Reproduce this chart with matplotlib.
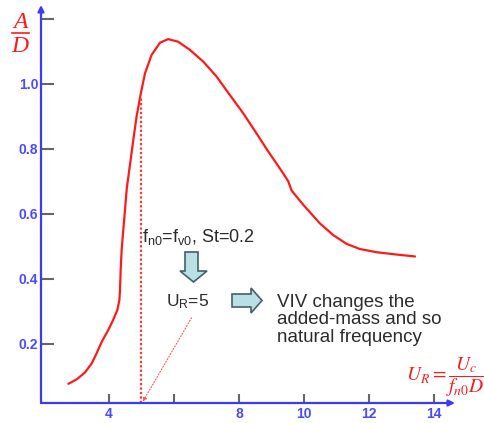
import matplotlib
matplotlib.use("Agg")
import matplotlib.pyplot as plt
from matplotlib.patches import Polygon
import numpy as np

plt.rcParams['font.family'] = ['Liberation Sans', 'DejaVu Sans']
plt.rcParams['mathtext.fontset'] = 'custom'
plt.rcParams['mathtext.rm'] = 'Liberation Sans'
plt.rcParams['mathtext.it'] = 'Liberation Sans:italic'

# ---- data ----
ur = [2.75, 3.01, 3.26, 3.47, 3.62, 3.78, 3.98, 4.13, 4.26, 4.32, 4.34, 4.36, 4.39,
      4.44, 4.55, 4.75, 4.85, 4.98, 5.11, 5.31, 5.57, 5.82, 6.13, 6.49, 6.9, 7.31,
      7.72, 8.13, 8.54, 8.85, 9.36, 9.52, 9.62, 9.98, 10.49, 10.9, 11.31, 11.72,
      12.24, 12.85, 13.42]
amp = [0.077, 0.091, 0.112, 0.14, 0.171, 0.207, 0.243, 0.274, 0.305, 0.335, 0.366,
       0.428, 0.489, 0.55, 0.68, 0.828, 0.90, 0.971, 1.033, 1.089, 1.127, 1.138, 1.13,
       1.105, 1.069, 1.023, 0.966, 0.91, 0.848, 0.80, 0.725, 0.70, 0.672, 0.628, 0.571,
       0.535, 0.508, 0.492, 0.482, 0.475, 0.469]
x_ticks = [4, 6, 8, 10, 12, 14]
x_ticklabels = ['4', '', '8', '10', '12', '14']
y_ticks = [0.2, 0.4, 0.6, 0.8, 1.0, 1.2]
y_ticklabels = ['0.2', '0.4', '0.6', '0.8', '1.0', '']
ur_marker = 5.0
ur_note = (6.54, 0.28)

W, H = 485, 423
fig = plt.figure(figsize=(W / 100, H / 100), dpi=100)
ax = fig.add_axes([41 / W, (H - 403) / H, (455 - 41) / W, (403 - 5) / H])
ax.set_xlim(1.908, 14.65)
ax.set_ylim(0.018, 1.243)
for s in ax.spines.values():
    s.set_visible(False)

def fp(x, y):
    return (x / W, 1 - y / H)

# axes with arrow heads
axis_col = '#3a3aff'
ax.annotate('', xy=(0, 1.0), xytext=(0, 0), xycoords='axes fraction',
            arrowprops=dict(arrowstyle='-|>', color=axis_col, lw=1.6, mutation_scale=9,
                            shrinkA=0, shrinkB=0))
ax.annotate('', xy=(1.0, 0), xytext=(0, 0), xycoords='axes fraction',
            arrowprops=dict(arrowstyle='-|>', color=axis_col, lw=1.6, mutation_scale=9,
                            shrinkA=0, shrinkB=0))

ax.set_xticks(x_ticks)
ax.set_xticklabels(x_ticklabels)
ax.set_yticks(y_ticks)
ax.set_yticklabels(y_ticklabels)
ax.tick_params(axis='x', direction='in', length=6.5, width=1.5, color='#666666',
               labelcolor='#4a4aff', labelsize=10, pad=3)
ax.tick_params(axis='y', direction='in', length=9.5, width=1.5, color='#666666',
               labelcolor='#4a4aff', labelsize=10, pad=2)
for lab in ax.get_xticklabels() + ax.get_yticklabels():
    lab.set_fontweight('bold')

# curve
ax.plot(ur, amp, color='#ff1a1a', lw=1.6, solid_capstyle='round',
        solid_joinstyle='round', clip_on=False)

# vertical dotted marker line at UR=5
top = np.interp(ur_marker, ur, amp)
ax.plot([ur_marker, ur_marker], [0.018, top - 0.02], color='#ff3333', lw=1.6,
        linestyle=(0, (1, 1)), clip_on=False)
# sloped dotted pointer
ax.annotate('', xy=(ur_marker + 0.04, 0.022), xytext=ur_note,
            arrowprops=dict(arrowstyle='-|>', color='#ff5555', lw=0.8, linestyle=':',
                            mutation_scale=6, shrinkA=0, shrinkB=0))

# texts
tcol = '#2b2b2b'
fig.text(*fp(142, 237), r'f$_\mathrm{n0}$=f$_\mathrm{v0}$, St=0.2', fontsize=13,
         color=tcol, ha='left', va='center')
fig.text(*fp(188, 302), r'U$_\mathrm{R}$=5', fontsize=12.5, color=tcol,
         ha='center', va='center')
fig.text(*fp(277, 320), 'VIV changes the\nadded-mass and so\nnatural frequency',
         fontsize=13.5, color=tcol, ha='left', va='center', linespacing=1.02)

# block arrows
fill, edge = '#b9e0e4', '#44606a'
down = [(185, 252), (198, 252), (198, 271), (207, 271), (193.5, 282), (180, 271), (185, 271)]
right = [(232, 294), (251, 294), (251, 288), (262, 300.5), (251, 313), (251, 307), (232, 307)]
for pts in (down, right):
    fig.patches.append(Polygon([fp(x, y) for x, y in pts], closed=True,
                               transform=fig.transFigure, facecolor=fill,
                               edgecolor=edge, lw=1.2))

# axis titles
red = '#ff1a1a'
fig.text(*fp(20, 22), 'A', fontsize=17, color=red, ha='center', va='center',
         family='Liberation Serif', style='italic')
fig.add_artist(plt.Line2D([12 / W, 29 / W], [1 - 33 / H, 1 - 33 / H],
                          transform=fig.transFigure, color=red, lw=1.2))
fig.text(*fp(20, 47), 'D', fontsize=17, color=red, ha='center', va='center',
         family='Liberation Serif', style='italic')
fig.text(*fp(406, 377), r'$U_R=\dfrac{U_c}{f_{n0}D}$', fontsize=14, color=red,
         ha='left', va='center', math_fontfamily='stix')

fig.savefig('out.png', dpi=100)
